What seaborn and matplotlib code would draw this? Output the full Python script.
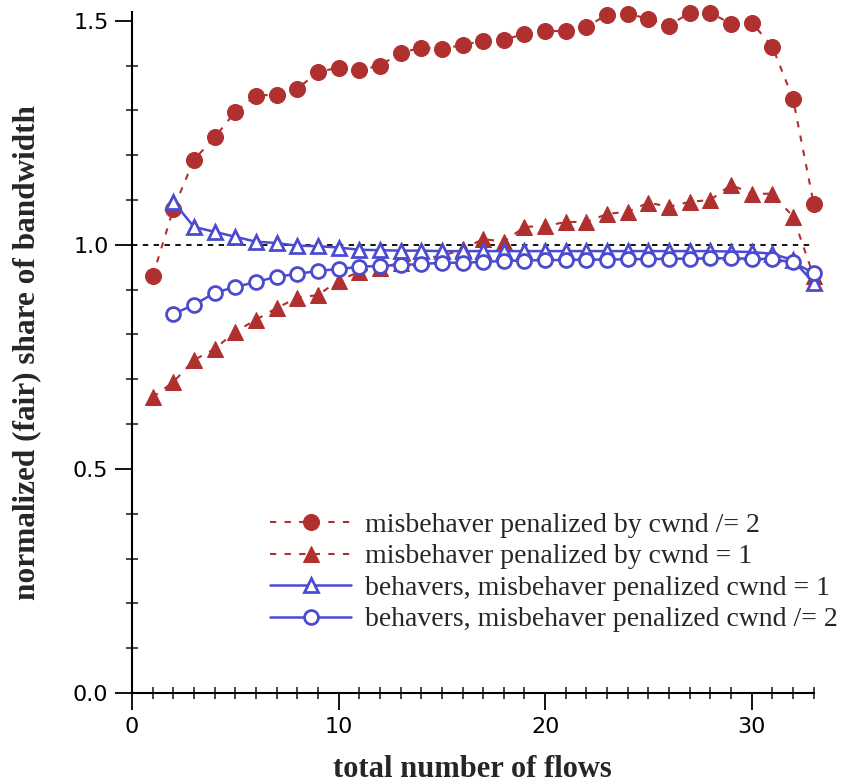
import matplotlib
matplotlib.use("Agg")
import matplotlib.pyplot as plt
import seaborn as sns
from matplotlib.ticker import MultipleLocator

sns.set_style("white")
plt.rcParams['font.family'] = ['Liberation Serif', 'DejaVu Serif']

# data
x_mis = list(range(1, 34))
mis_half = [0.93, 1.08, 1.19, 1.24, 1.297, 1.333, 1.335, 1.348, 1.386, 1.395,
            1.39, 1.40, 1.428, 1.44, 1.437, 1.446, 1.455, 1.458, 1.47, 1.478,
            1.476, 1.487, 1.513, 1.516, 1.504, 1.489, 1.518, 1.518, 1.493, 1.496,
            1.442, 1.326, 1.092]
mis_one = [0.66, 0.694, 0.743, 0.768, 0.806, 0.833, 0.859, 0.882, 0.888, 0.92,
           0.94, 0.949, 0.96, 0.97, 0.975, 0.99, 1.013, 1.007, 1.04, 1.042,
           1.051, 1.051, 1.069, 1.074, 1.094, 1.085, 1.096, 1.10, 1.134, 1.114,
           1.114, 1.063, 0.93]
x_beh = list(range(2, 34))
beh_one = [1.096, 1.04, 1.029, 1.018, 1.007, 1.004, 0.998, 0.997, 0.994, 0.989,
           0.988, 0.987, 0.987, 0.986, 0.986, 0.986, 0.986, 0.986, 0.986, 0.986,
           0.986, 0.986, 0.986, 0.986, 0.986, 0.986, 0.986, 0.985, 0.984, 0.98,
           0.966, 0.915]
beh_half = [0.846, 0.866, 0.893, 0.906, 0.917, 0.929, 0.935, 0.942, 0.946, 0.951,
            0.953, 0.955, 0.957, 0.96, 0.96, 0.962, 0.964, 0.965, 0.966, 0.966,
            0.967, 0.967, 0.968, 0.968, 0.969, 0.969, 0.97, 0.97, 0.969, 0.968,
            0.961, 0.937]

labels = ["misbehaver penalized by cwnd /= 2",
          "misbehaver penalized by cwnd = 1",
          "behavers, misbehaver penalized cwnd = 1",
          "behavers, misbehaver penalized cwnd /= 2"]

RED = "#b03030"
BLUE = "#4b4bd0"

fig = plt.figure(figsize=(8.52, 7.84), dpi=100)
ax = fig.add_axes([0.155, 0.116, 0.80, 0.869])

ax.axhline(1.0, xmin=0, xmax=1, color="black", linestyle=(0, (3, 3)), linewidth=1.3, zorder=1)

dash = (0, (3, 4))
common = dict(ax=ax, clip_on=False)
sns.lineplot(x=x_mis, y=mis_half, color=RED, linestyle=dash, linewidth=1.5,
             marker="o", markersize=11.5, markeredgecolor=RED, markerfacecolor=RED,
             label=labels[0], zorder=3, **common)
sns.lineplot(x=x_mis, y=mis_one, color=RED, linestyle=dash, linewidth=1.5,
             marker="^", markersize=11, markeredgecolor=RED, markerfacecolor=RED,
             label=labels[1], zorder=3, **common)
sns.lineplot(x=x_beh, y=beh_one, color=BLUE, linestyle="-", linewidth=1.8,
             marker="^", markersize=10, markeredgecolor=BLUE, markerfacecolor="white",
             markeredgewidth=2, label=labels[2], zorder=4, **common)
sns.lineplot(x=x_beh, y=beh_half, color=BLUE, linestyle="-", linewidth=1.8,
             marker="o", markersize=10, markeredgecolor=BLUE, markerfacecolor="white",
             markeredgewidth=2, label=labels[3], zorder=4, **common)

ax.set_xlim(0, 33)
ax.set_ylim(0, 1.52)
ax.xaxis.set_major_locator(MultipleLocator(10))
ax.xaxis.set_minor_locator(MultipleLocator(1))
ax.set_yticks([0.0, 0.5, 1.0, 1.5])
ax.set_yticklabels(["0.0", "0.5", "1.0", "1.5"])
ax.yaxis.set_minor_locator(MultipleLocator(0.1))
ax.tick_params(axis="both", which="both", bottom=True, left=True, top=False, right=False)
ax.tick_params(axis="both", which="major", direction="out", length=12, width=1.3,
               labelsize=16, colors="black", pad=5)
ax.tick_params(axis="both", which="minor", direction="inout", length=8, width=1.2)
for lab in ax.get_xticklabels() + ax.get_yticklabels():
    lab.set_family(['DejaVu Sans'])

for s in ["top", "right"]:
    ax.spines[s].set_visible(False)
for s in ["left", "bottom"]:
    ax.spines[s].set_color("black")
    ax.spines[s].set_linewidth(1.5)

ax.set_xlabel("total number of flows", fontsize=22, fontweight="bold")
ax.set_ylabel("normalized (fair) share of bandwidth", fontsize=22.5, fontweight="bold")
ax.xaxis.set_label_coords(0.50, -0.091)
ax.yaxis.set_label_coords(-0.134, 0.50)

leg = ax.legend(loc="upper left", bbox_to_anchor=(262 / 852, (784 - 504) / 784),
                bbox_transform=fig.transFigure, frameon=False,
                fontsize=20, handlelength=2.9, labelspacing=0.22, handletextpad=0.5,
                borderaxespad=0, borderpad=0.3)

fig.savefig("out.png", dpi=100)
